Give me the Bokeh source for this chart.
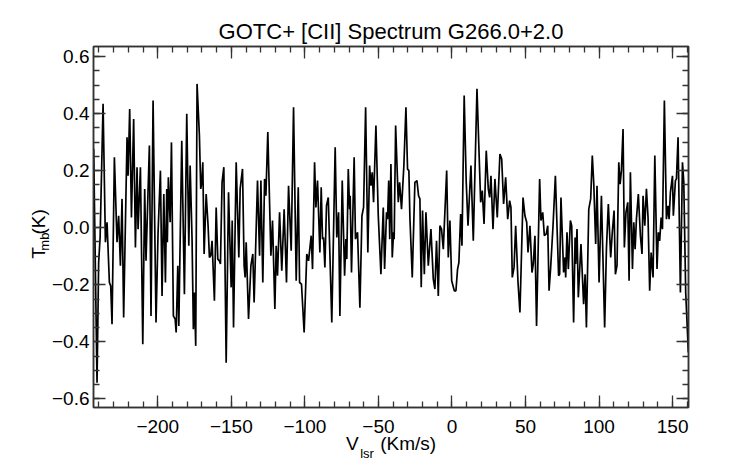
import math
from bokeh.plotting import figure
from bokeh.models import (LinearAxis, SingleIntervalTicker, FixedTicker, CustomJSTickFormatter,
                          Range1d, ColumnDataSource)
from bokeh.embed import file_html
from bokeh.resources import INLINE

# ---- data ----
velocity = [
    -243.6, -241.3, -240.2, -239.2, -237.2, -235.6, -234.5, -232.9, -232.0, -231.1,
    -229.5, -227.7, -226.6, -225.4, -224.3, -223.2, -220.9, -220.2, -219.1, -217.9,
    -216.4, -215.2, -214.1, -213.4, -211.8, -210.2, -208.9, -208.0, -205.7, -204.6,
    -203.2, -201.2, -199.8, -198.2, -197.1, -195.9, -194.8, -193.9,
    -193.5, -192.8, -191.6, -190.7, -189.4, -188.2, -187.5, -186.4, -185.7, -183.7,
    -181.9, -180.3, -178.9, -178.0, -176.7, -175.8, -175.1, -174.2, -173.3, -171.7,
    -170.8, -170.1, -169.4, -168.5, -167.1, -165.8, -164.9, -164.0, -163.1, -161.5,
    -160.3, -159.2, -158.1, -157.4, -156.3, -155.1, -153.5, -151.9, -150.1, -149.4,
    -148.5, -146.7, -144.9, -144.0,
    -142.4, -141.3, -140.6, -139.9, -138.3, -136.7, -135.4, -134.5, -132.2, -130.8,
    -129.9, -128.6, -127.4, -126.5, -125.2, -123.1, -122.0, -120.4, -119.5, -118.6,
    -117.2, -115.7, -114.1, -112.5, -111.1, -109.3, -107.7, -105.9, -104.5, -103.6,
    -102.3, -100.5, -98.7, -97.5, -95.7, -94.8, -93.4,
    -92.5, -91.4, -89.8, -88.9, -88.0, -87.3, -86.4, -85.3, -84.1, -83.0,
    -81.7, -79.4, -78.3, -77.1, -76.2, -74.6, -73.0, -72.1, -71.5, -70.5,
    -69.6, -69.2, -68.3, -66.5, -65.6, -64.2, -62.6, -61.2, -60.1, -58.7,
    -57.2, -56.0, -55.1, -54.2, -53.3, -51.7, -50.1, -48.3, -46.7, -45.8,
    -44.5, -43.8, -43.0, -42.3,
    -41.5, -40.6, -39.7, -39.3, -38.3, -36.5, -35.6, -34.3, -32.7, -31.3,
    -30.2, -29.3, -28.6, -27.0, -25.2, -23.8, -22.7, -21.8, -20.9, -20.0,
    -18.8, -17.7, -16.1, -14.3, -12.7, -11.6, -10.5, -9.3, -8.2, -7.1,
    -5.9, -3.6, -2.5, -1.4, -0.2, 1.6, 2.7, 3.8, 4.7, 5.9, 6.8,
    8.3, 9.7, 10.9, 12.9, 14.5, 17.0, 19.5, 20.6, 21.8, 23.3,
    24.7, 25.6, 26.5, 27.9, 29.2, 30.8, 32.6, 33.8, 35.1, 36.5,
    37.9, 39.2, 40.1, 41.0, 42.2, 43.3, 44.9, 46.2, 48.3, 49.6,
    50.8, 51.7, 53.0, 54.4, 55.3, 56.4, 57.5,
    59.6, 60.5, 61.7, 62.8, 64.1, 65.1, 66.0, 67.1, 68.7, 70.3,
    72.5, 73.2, 74.1, 75.9, 76.9, 77.3, 78.2, 79.1, 80.5, 81.4,
    82.7, 83.7, 84.1, 85.0, 85.9, 87.7, 89.5, 90.5, 91.4, 93.0,
    94.3, 95.4, 96.4, 97.7, 98.6, 100.0, 101.6, 103.8, 105.0, 106.3,
    107.9, 109.0,
    110.2, 111.1, 112.2, 113.4, 114.3, 115.2, 116.3, 117.2, 118.3, 119.5,
    120.4, 121.3, 122.7, 123.6, 124.5, 125.4, 126.7, 128.1, 129.2, 129.9,
    131.1, 132.2, 133.3, 134.4, 135.4, 136.7, 137.9, 139.4, 140.3, 141.2,
    142.2, 143.1, 144.4, 145.8, 146.9, 147.6, 148.5, 149.9, 150.5, 151.9,
    152.6, 153.7, 155.3, 156.7, 157.6, 158.9, 160.7,
]
tmb = [
    0.277, -0.543, -0.122, -0.034, 0.434, -0.051, 0.019, -0.192, -0.204, -0.338,
    0.247, -0.051, 0.042, -0.133, 0.101, -0.315, 0.317, 0.182, 0.416, 0.036,
    0.381, -0.069, 0.212, -0.005, 0.212, -0.408, 0.136, -0.116, 0.288, -0.309,
    0.446, -0.332, -0.016, 0.200, -0.239, 0.118, -0.192, 0.136,
    -0.051, 0.177, 0.019, 0.299, -0.309, -0.320, -0.367, -0.133, -0.344, 0.305,
    -0.233, 0.399, -0.063, 0.218, -0.040, -0.356, -0.227, -0.414, 0.504, 0.323,
    0.136, 0.159, 0.229, -0.092, 0.118, 0.007, -0.104, -0.098, -0.046, -0.256,
    0.071, -0.110, -0.116, -0.127, 0.159, 0.212, -0.473, 0.124, -0.209, 0.025,
    -0.350, 0.229, -0.104, 0.136,
    0.206, -0.133, -0.174, -0.051, -0.320, -0.133, -0.092, -0.262, 0.165, -0.098,
    0.165, -0.192, 0.171, 0.112, 0.335, -0.098, 0.025, -0.285, -0.063, -0.168,
    0.054, -0.151, 0.065, -0.192, 0.147, -0.081, 0.422, -0.186, 0.142, -0.192,
    -0.198, -0.367, -0.092, -0.116, -0.028, -0.145, 0.229,
    0.071, 0.165, -0.087, 0.142, -0.040, -0.034, -0.139, 0.077, 0.106, -0.092,
    -0.332, 0.282, -0.034, 0.054, -0.309, 0.165, -0.168, -0.040, -0.110, 0.206,
    0.065, 0.112, -0.157, 0.247, -0.040, -0.016, -0.280, 0.042, 0.071, 0.422,
    -0.087, 0.218, 0.147, 0.194, 0.089, 0.358, 0.042, -0.163, 0.071, -0.145,
    0.054, 0.030, 0.165, -0.040,
    0.223, -0.104, -0.016, -0.040, 0.358, 0.089, 0.159, 0.065, 0.218, 0.422,
    0.206, 0.200, 0.036, -0.174, 0.159, 0.165, 0.112, 0.101, -0.209, 0.060,
    -0.163, 0.054, -0.133, -0.005, -0.180, -0.215, -0.046, -0.239, 0.007, -0.005,
    -0.075, 0.200, -0.104, 0.025, -0.186, -0.221, -0.221, -0.145, -0.122, 0.048, -0.063,
    0.463, 0.159, 0.007, 0.218, -0.046, 0.487, 0.089, 0.130, 0.013, 0.270,
    0.136, 0.106, 0.182, -0.005, 0.171, 0.036, 0.258, 0.241, 0.083, 0.177,
    0.030, 0.095, 0.071, -0.174, -0.139, 0.007, -0.192, -0.297, 0.106, 0.042,
    0.019, -0.087, 0.007, -0.157, -0.127, -0.028, -0.344,
    0.171, 0.025, 0.054, -0.028, -0.022, 0.007, -0.221, -0.139, 0.007, 0.182,
    -0.168, -0.163, 0.106, -0.157, -0.104, -0.174, -0.016, -0.145, 0.025, 0.007,
    -0.332, -0.034, -0.127, -0.005, -0.244, -0.057, -0.268, -0.163, -0.350, 0.065,
    0.101, 0.253, 0.153, -0.057, 0.147, -0.192, 0.112, -0.350, -0.075, 0.083,
    -0.104, -0.015,
    0.060, -0.163, -0.133, 0.229, 0.153, 0.200, 0.346, -0.069, 0.054, 0.089,
    -0.186, 0.194, -0.145, 0.019, -0.075, 0.030, 0.118, -0.028, -0.092, 0.112,
    0.007, 0.136, 0.036, -0.221, -0.087, -0.174, 0.253, -0.145, -0.016, -0.046,
    0.036, -0.005, 0.446, 0.030, 0.077, 0.030, 0.124, 0.182, 0.042, 0.165,
    0.171, 0.317, -0.227, 0.229, 0.159, -0.227, -0.437,
]

TITLE = "GOTC+ [CII] Spectrum G266.0+2.0"
X_RANGE = (-243.7, 160.8)
Y_RANGE = (-0.63, 0.635)

# axis-title pieces (main text + subscript)
x_title_parts = ["V", "(Km/s)"]
x_title_sub = ["lsr"]
y_title_parts = ["T", "(K)"]
y_title_sub = ["mb"]
# where the pieces sit, in data units along each axis
x_title_at = [-67.7, -29.8]
x_sub_at = [-57.7]
y_title_at = [-0.068, 0.065]
y_sub_at = [-0.017]

FONT = "Liberation Sans"
AX_COLOR = "#333333"

src = ColumnDataSource(data=dict(v=velocity, t=tmb))

p = figure(width=742, height=464, output_backend="svg", toolbar_location=None,
           x_range=Range1d(*X_RANGE), y_range=Range1d(*Y_RANGE),
           min_border_left=93, min_border_right=54, min_border_top=46,
           min_border_bottom=57, x_axis_type=None, y_axis_type=None)
p.title.text = TITLE
p.title.text_font = FONT
p.title.text_font_size = "22px"
p.title.text_font_style = "normal"
p.title.text_color = "black"
p.title.align = "center"
p.title.standoff = 6
p.grid.visible = False
p.outline_line_color = AX_COLOR
p.outline_line_width = 1.5
p.background_fill_color = "white"
p.border_fill_color = "white"

xfmt = CustomJSTickFormatter(code="return tick.toFixed(0).replace('-', '\u2212');")
yfmt = CustomJSTickFormatter(code="return tick.toFixed(1).replace('-', '\u2212');")
blank = CustomJSTickFormatter(code="return '';")


def style(ax):
    ax.axis_line_color = AX_COLOR
    ax.axis_line_width = 1.5
    ax.major_tick_line_color = AX_COLOR
    ax.minor_tick_line_color = AX_COLOR
    ax.major_tick_line_width = 1.3
    ax.minor_tick_line_width = 1.3
    ax.major_tick_in = 12
    ax.major_tick_out = 0
    ax.minor_tick_in = 6
    ax.minor_tick_out = 0
    ax.major_label_text_font = FONT
    ax.major_label_text_font_size = "19px"
    ax.major_label_text_color = "black"


def text_axis(ticks, labels, size, standoff, orient):
    """An axis with no line or ticks whose labels carry a piece of an axis title."""
    ax = LinearAxis(ticker=FixedTicker(ticks=ticks, minor_ticks=[]),
                    formatter=CustomJSTickFormatter(args=dict(labels=labels),
                                                    code="return labels[index];"))
    ax.axis_line_color = None
    ax.major_tick_line_color = None
    ax.minor_tick_line_color = None
    ax.major_tick_in = 0
    ax.major_tick_out = 0
    ax.major_label_text_font = FONT
    ax.major_label_text_font_size = size
    ax.major_label_text_color = "black"
    ax.major_label_standoff = standoff
    ax.major_label_orientation = orient
    return ax


# numeric axes, ticks on all four sides
for loc in ("below", "above"):
    ax = LinearAxis(ticker=SingleIntervalTicker(interval=50, num_minor_ticks=5),
                    formatter=xfmt if loc == "below" else blank)
    style(ax)
    ax.major_label_standoff = 12
    p.add_layout(ax, loc)

for loc in ("left", "right"):
    ax = LinearAxis(ticker=SingleIntervalTicker(interval=0.2, num_minor_ticks=4),
                    formatter=yfmt if loc == "left" else blank)
    style(ax)
    ax.major_label_standoff = 4
    p.add_layout(ax, loc)

# axis titles with subscripts
p.add_layout(text_axis(x_title_at, x_title_parts, "19px", -3, "horizontal"), "below")
p.add_layout(text_axis(x_sub_at, x_title_sub, "13px", -11, "horizontal"), "below")
p.add_layout(text_axis(y_sub_at, y_title_sub, "13px", 4, math.pi / 2), "left")
p.add_layout(text_axis(y_title_at, y_title_parts, "19px", -12, math.pi / 2), "left")

p.line("v", "t", source=src, line_color="black", line_width=1.7)

open("out.html", "w").write(file_html(p, INLINE))
